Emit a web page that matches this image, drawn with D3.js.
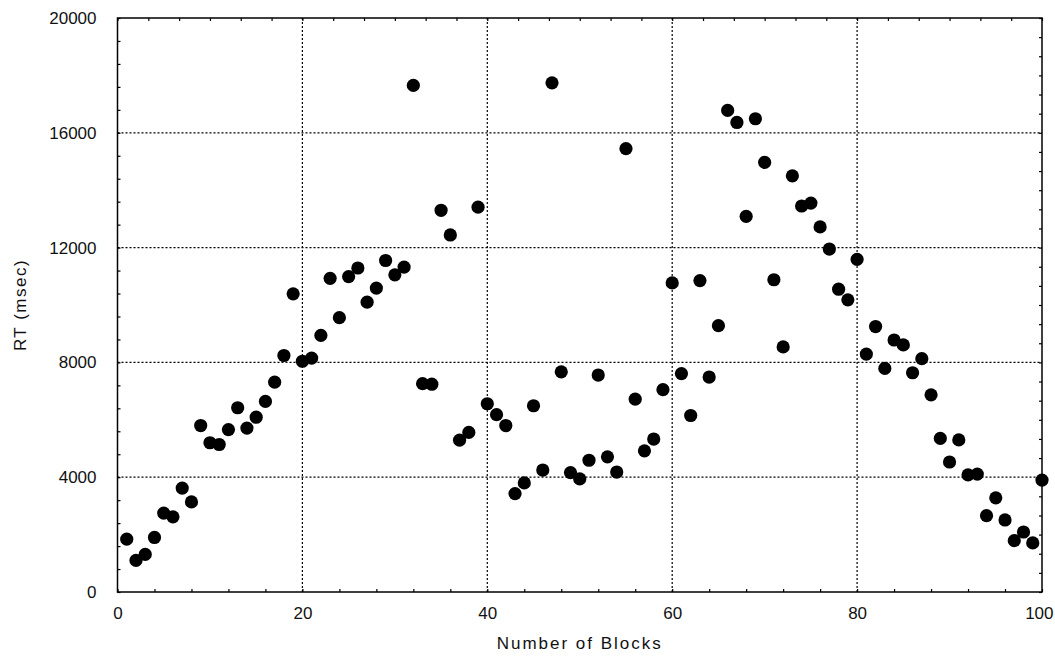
<!DOCTYPE html>
<html>
<head>
<meta charset="utf-8">
<script src="https://cdn.jsdelivr.net/npm/d3@7"></script>
<style>
  body { margin: 0; background: #fff; }
  text { font-family: "Liberation Sans", Arial, sans-serif; fill: #111; }
</style>
</head>
<body>
<div id="container"></div>
<script>
// one point per block, RT in msec
const blocks = d3.range(1, 101);
const rt = [
  1840, 1100, 1310, 1900, 2750, 2620, 3620, 3140, 5800, 5200,
  5140, 5660, 6420, 5710, 6090, 6640, 7310, 8240, 10390, 8040,
  8150, 8940, 10930, 9560, 10990, 11290, 10100, 10590, 11550, 11050,
  11320, 17650, 7260, 7240, 13300, 12440, 5290, 5560, 13410, 6560,
  6180, 5800, 3430, 3800, 6490, 4250, 17740, 7670, 4160, 3940,
  4590, 7560, 4710, 4180, 15450, 6720, 4920, 5330, 7050, 10770,
  7610, 6150, 10850, 7490, 9280, 16780, 16360, 13090, 16490, 14970,
  10880, 8540, 14500, 13450, 13550, 12720, 11950, 10550, 10180, 11590,
  8290, 9250, 7790, 8780, 8610, 7640, 8130, 6870, 5350, 4530,
  5300, 4080, 4110, 2660, 3280, 2510, 1790, 2090, 1710, 3900
];
const xTicks = [0, 20, 40, 60, 80, 100];
const yTicks = [0, 4000, 8000, 12000, 16000, 20000];

const width = 1055, height = 656;
const margin = {top: 18, right: 13, bottom: 64, left: 117.5};

const svg = d3.select('#container').append('svg')
  .attr('width', width)
  .attr('height', height);

const x = d3.scaleLinear().domain([0, 100]).range([margin.left, width - margin.right]);
const y = d3.scaleLinear().domain([0, 20000]).range([height - margin.bottom, margin.top]);

// dotted grid
svg.append('g')
  .selectAll('line')
  .data(xTicks.slice(1, -1))
  .join('line')
  .attr('x1', d => x(d)).attr('x2', d => x(d))
  .attr('y1', y(0)).attr('y2', y(20000))
  .attr('stroke', '#000').attr('stroke-width', 1.2)
  .attr('stroke-dasharray', '2,2');

svg.append('g')
  .selectAll('line')
  .data(yTicks.slice(1, -1))
  .join('line')
  .attr('x1', x(0)).attr('x2', x(100))
  .attr('y1', d => y(d)).attr('y2', d => y(d))
  .attr('stroke', '#000').attr('stroke-width', 1.2)
  .attr('stroke-dasharray', '2,2');

// minor ticks pointing inward on all four sides
function minor(g) {
  g.select('.domain').remove();
  g.selectAll('text').remove();
  g.selectAll('line').attr('stroke', '#000').attr('stroke-width', 1.2);
}
svg.append('g').attr('transform', `translate(${x(0)},0)`)
  .call(d3.axisLeft(y).tickValues(d3.range(0, 20001, 800)).tickSize(-3)).call(minor);
svg.append('g').attr('transform', `translate(${x(100)},0)`)
  .call(d3.axisRight(y).tickValues(d3.range(0, 20001, 20000 / 30)).tickSize(-3)).call(minor);
svg.append('g').attr('transform', `translate(0,${y(0)})`)
  .call(d3.axisBottom(x).tickValues(d3.range(0, 101, 4)).tickSize(-3)).call(minor);
svg.append('g').attr('transform', `translate(0,${y(20000)})`)
  .call(d3.axisTop(x).tickValues(d3.range(0, 100.01, 100 / 30)).tickSize(-3)).call(minor);

// tick labels
function labels(g) {
  g.select('.domain').remove();
  g.selectAll('line').remove();
  g.selectAll('text').style('font-size', '17px');
}
svg.append('g').attr('transform', `translate(${x(0)},0)`)
  .call(d3.axisLeft(y).tickValues(yTicks).tickFormat(d3.format('d')).tickSize(0).tickPadding(21))
  .call(labels);
svg.append('g').attr('transform', `translate(0,${y(0)})`)
  .call(d3.axisBottom(x).tickValues(xTicks).tickFormat(d3.format('d')).tickSize(0).tickPadding(15))
  .call(labels)
  .call(g => g.selectAll('.tick').filter(d => d === 100).select('text')
    .attr('text-anchor', 'end').attr('x', 11));

// frame
svg.append('rect')
  .attr('x', x(0)).attr('y', y(20000))
  .attr('width', x(100) - x(0)).attr('height', y(0) - y(20000))
  .attr('fill', 'none').attr('stroke', '#000').attr('stroke-width', 1.5);

// points
svg.append('g')
  .selectAll('circle')
  .data(blocks)
  .join('circle')
  .attr('cx', d => x(d))
  .attr('cy', (d, i) => y(rt[i]))
  .attr('r', 6.6)
  .attr('fill', '#000');

// axis titles
svg.append('text')
  .attr('x', (x(0) + x(100)) / 2).attr('y', 649)
  .attr('text-anchor', 'middle')
  .style('font-size', '17px').style('letter-spacing', '2px')
  .text('Number of Blocks');

svg.append('text')
  .attr('transform', `translate(26,${(y(0) + y(20000)) / 2}) rotate(-90)`)
  .attr('text-anchor', 'middle')
  .style('font-size', '17px').style('letter-spacing', '1.5px')
  .text('RT (msec)');
</script>
</body>
</html>
